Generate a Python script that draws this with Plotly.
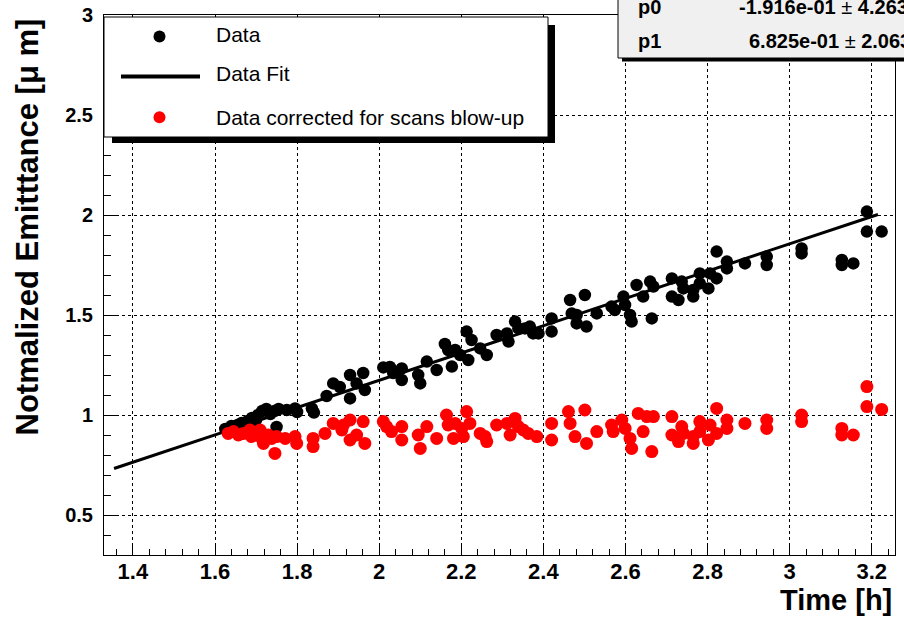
import plotly.graph_objects as go

# Normalized emittance vs. time: raw measurements
data_t = [1.625, 1.64, 1.655, 1.665, 1.68, 1.69, 1.70, 1.705, 1.715, 1.725, 1.735, 1.745, 1.75, 1.755,
          1.775, 1.795, 1.80, 1.836, 1.841, 1.872, 1.888, 1.904, 1.929, 1.929, 1.945, 1.961, 1.965,
          2.01, 2.026, 2.034, 2.055, 2.055, 2.095, 2.10, 2.116, 2.14,
          2.177, 2.160, 2.168, 2.185, 2.197, 2.213, 2.217, 2.225, 2.246, 2.262, 2.286, 2.311, 2.315,
          2.331, 2.339, 2.355, 2.367, 2.375, 2.388, 2.42, 2.42, 2.465, 2.469, 2.481, 2.481, 2.501,
          2.505, 2.53, 2.566, 2.574, 2.595, 2.599, 2.611, 2.615, 2.627, 2.643, 2.66, 2.664, 2.668,
          2.713, 2.713, 2.729, 2.737, 2.741, 2.765, 2.765, 2.781, 2.781, 2.802, 2.806, 2.822, 2.822,
          2.847, 2.847, 2.891, 2.944, 2.944, 3.029, 3.029, 3.127, 3.127, 3.155, 3.188, 3.188, 3.224]
data_emit = [0.93, 0.945, 0.95, 0.96, 0.97, 0.985, 0.975, 1.0, 1.02, 1.03, 1.005, 1.02, 0.94, 1.03,
             1.025, 1.033, 1.015, 1.033, 1.012, 1.095, 1.158, 1.14, 1.20, 1.083, 1.158, 1.21, 1.125,
             1.238, 1.24, 1.21, 1.233, 1.175, 1.20, 1.158, 1.267, 1.225,
             1.242, 1.355, 1.325, 1.325, 1.30, 1.417, 1.275, 1.375, 1.333, 1.30, 1.40, 1.408, 1.367,
             1.467, 1.433, 1.433, 1.442, 1.408, 1.408, 1.483, 1.417, 1.575, 1.508, 1.50, 1.458, 1.60,
             1.442, 1.508, 1.542, 1.525, 1.592, 1.55, 1.50, 1.467, 1.65, 1.592, 1.667, 1.483, 1.642,
             1.683, 1.592, 1.575, 1.667, 1.633, 1.592, 1.625, 1.708, 1.658, 1.633, 1.708, 1.817, 1.683,
             1.767, 1.733, 1.758, 1.792, 1.75, 1.833, 1.808, 1.775, 1.75, 1.758, 2.017, 1.917, 1.917]

# Same measurements after correcting for the wire-scan blow-up
corr_t = [1.632, 1.645, 1.657, 1.669, 1.685, 1.689, 1.71, 1.714, 1.718, 1.73, 1.738, 1.746, 1.75,
          1.771, 1.795, 1.799, 1.839, 1.839, 1.868, 1.888, 1.909, 1.913, 1.929, 1.929, 1.945, 1.961,
          1.965, 2.01, 2.018, 2.03, 2.055, 2.055, 2.095, 2.10, 2.116, 2.14,
          2.164, 2.168, 2.181, 2.185, 2.201, 2.205, 2.213, 2.221, 2.246, 2.258, 2.262, 2.286, 2.311,
          2.319, 2.331, 2.339, 2.351, 2.363, 2.384, 2.42, 2.42, 2.461, 2.465, 2.477, 2.501, 2.505,
          2.53, 2.566, 2.57, 2.591, 2.599, 2.611, 2.615, 2.631, 2.643, 2.652, 2.664, 2.668,
          2.713, 2.713, 2.729, 2.737, 2.741, 2.765, 2.765, 2.781, 2.781, 2.802, 2.806, 2.822, 2.822,
          2.847, 2.847, 2.891, 2.944, 2.944, 3.029, 3.029, 3.127, 3.127, 3.155, 3.188, 3.188, 3.224]
corr_emit = [0.908, 0.917, 0.90, 0.908, 0.925, 0.892, 0.925, 0.883, 0.858, 0.90, 0.883, 0.808, 0.892,
             0.883, 0.892, 0.858, 0.883, 0.842, 0.908, 0.958, 0.925, 0.95, 0.975, 0.875, 0.90, 0.967,
             0.858, 0.967, 0.942, 0.917, 0.942, 0.875, 0.90, 0.833, 0.942, 0.883,
             1.0, 0.95, 0.883, 0.958, 0.933, 0.892, 1.017, 0.958, 0.908, 0.892, 0.867, 0.95, 0.958,
             0.90, 0.983, 0.942, 0.925, 0.908, 0.892, 0.958, 0.875, 1.017, 0.958, 0.892, 1.025, 0.858,
             0.917, 0.95, 0.917, 0.975, 0.933, 0.883, 0.833, 1.008, 0.917, 0.992, 0.817, 0.992,
             0.992, 0.90, 0.867, 0.942, 0.908, 0.858, 0.892, 0.967, 0.917, 0.875, 0.95, 1.033, 0.908,
             0.975, 0.933, 0.958, 0.975, 0.933, 1.0, 0.967, 0.933, 0.90, 0.90, 1.142, 1.042, 1.028]

# Linear fit  emit = p0 + p1 * t
fit_p0 = -0.1916
fit_p1 = 0.6825
fit_t_range = [1.354, 3.215]

x_tick_vals = [1.4, 1.6, 1.8, 2.0, 2.2, 2.4, 2.6, 2.8, 3.0, 3.2]
x_tick_text = ["1.4", "1.6", "1.8", "2", "2.2", "2.4", "2.6", "2.8", "3", "3.2"]
y_tick_vals = [0.5, 1.0, 1.5, 2.0, 2.5, 3.0]
y_tick_text = ["0.5", "1", "1.5", "2", "2.5", "3"]

legend_labels = ["Data", "Data Fit", "Data corrected for scans blow-up"]
stat_names = ["p0", "p1"]
stat_values = ["-1.916e-01", "6.825e-01"]
stat_errors = ["4.263e-02", "2.063e-02"]

W, H = 904, 620
L, R, T, B = 104, 895, 15, 555


def px(x):
    return (x - L) / (R - L)


def py(y):
    return (B - y) / (B - T)


def bold(s):
    return "<b>%s</b>" % s


fit_emit = [fit_p0 + fit_p1 * t for t in fit_t_range]

fig = go.Figure()
fig.add_trace(go.Scatter(x=data_t, y=data_emit, mode="markers",
                         marker=dict(color="black", size=12.5, line=dict(width=0)),
                         showlegend=False))
fig.add_trace(go.Scatter(x=fit_t_range, y=fit_emit, mode="lines",
                         line=dict(color="black", width=3), showlegend=False))
fig.add_trace(go.Scatter(x=corr_t, y=corr_emit, mode="markers",
                         marker=dict(color="#ff0000", size=13, line=dict(width=0)),
                         showlegend=False))

FONT = "Liberation Sans, Arial, sans-serif"
axis_common = dict(showline=True, linecolor="black", linewidth=1, mirror=True,
                   ticks="inside", tickcolor="black", tickwidth=1,
                   showgrid=True, gridcolor="black", gridwidth=1, griddash="dot",
                   zeroline=False, automargin=False)

fig.update_xaxes(range=[1.3296, 3.2565], tickmode="array", tickvals=x_tick_vals,
                 ticktext=[bold(t) for t in x_tick_text], ticklen=11,
                 tickfont=dict(family=FONT, size=22, color="black"),
                 ticklabelstandoff=-3,
                 minor=dict(tickmode="linear", tick0=1.4, dtick=0.04, ticklen=6,
                            ticks="inside", tickcolor="black", showgrid=False),
                 **axis_common)
fig.update_yaxes(range=[0.3, 3.0], tickmode="array", tickvals=y_tick_vals,
                 ticktext=[bold(t) for t in y_tick_text], ticklen=14,
                 tickfont=dict(family=FONT, size=20, color="black"),
                 ticklabelstandoff=6,
                 minor=dict(tickmode="linear", tick0=0.5, dtick=0.1, ticklen=7,
                            ticks="inside", tickcolor="black", showgrid=False),
                 **axis_common)

shapes = []
annotations = []

# legend box with drop shadow
shapes.append(dict(type="rect", xref="paper", yref="paper", layer="above",
                   x0=px(112), x1=px(555), y0=py(143), y1=py(25),
                   fillcolor="black", line=dict(width=0)))
shapes.append(dict(type="rect", xref="paper", yref="paper", layer="above",
                   x0=px(104), x1=px(548), y0=py(137), y1=py(17),
                   fillcolor="white", line=dict(color="black", width=1)))
# legend symbols
for cy, col in [(36.5, "black"), (117.3, "#ff0000")]:
    shapes.append(dict(type="circle", xref="paper", yref="paper", layer="above",
                       xsizemode="pixel", ysizemode="pixel",
                       xanchor=px(159.5), yanchor=py(cy), x0=-6, x1=6, y0=-6, y1=6,
                       fillcolor=col, line=dict(width=0)))
shapes.append(dict(type="line", xref="paper", yref="paper", layer="above",
                   x0=px(121), x1=px(200), y0=py(76.5), y1=py(76.5),
                   line=dict(color="black", width=4)))
for label, cy in zip(legend_labels, [34, 73, 117]):
    annotations.append(dict(text=label, xref="paper", yref="paper", x=px(214), y=py(cy),
                            xanchor="left", yanchor="middle", showarrow=False,
                            font=dict(family=FONT, size=21, color="black")))

# fit statistics box (extends past the top-right corner)
shapes.append(dict(type="rect", xref="paper", yref="paper", layer="above",
                   x0=px(622), x1=px(1100), y0=py(61.5), y1=py(-20),
                   fillcolor="black", line=dict(width=0)))
shapes.append(dict(type="rect", xref="paper", yref="paper", layer="above",
                   x0=px(618), x1=px(1100), y0=py(58), y1=py(-20),
                   fillcolor="#f0f0f0", line=dict(color="black", width=1)))
for name, val, err, cy, vx in zip(stat_names, stat_values, stat_errors, [7, 41], [737, 747]):
    annotations.append(dict(text=bold(name), xref="paper", yref="paper",
                            x=px(636), y=py(cy), xanchor="left", yanchor="middle",
                            showarrow=False, font=dict(family=FONT, size=20, color="black")))
    annotations.append(dict(text="%s \u00b1 %s" % (bold(val), bold(err)), xref="paper", yref="paper",
                            x=px(vx), y=py(cy), xanchor="left", yanchor="middle",
                            showarrow=False, font=dict(family=FONT, size=20, color="black")))

# axis titles
annotations.append(dict(text=bold("Notmalized Emitttance [\u03bc m]"), xref="paper", yref="paper",
                        x=px(27), y=py(17), xanchor="center", yanchor="top", textangle=-90,
                        showarrow=False, font=dict(family=FONT, size=31, color="black")))
annotations.append(dict(text=bold("Time [h]"), xref="paper", yref="paper",
                        x=px(894), y=py(600), xanchor="right", yanchor="middle",
                        showarrow=False, font=dict(family=FONT, size=29, color="black")))

fig.update_layout(width=W, height=H, margin=dict(l=L, r=W - R, t=T, b=H - B, autoexpand=False),
                  paper_bgcolor="white", plot_bgcolor="white",
                  font=dict(family=FONT, color="black"),
                  shapes=shapes, annotations=annotations, showlegend=False)

fig.write_html("out.html")
